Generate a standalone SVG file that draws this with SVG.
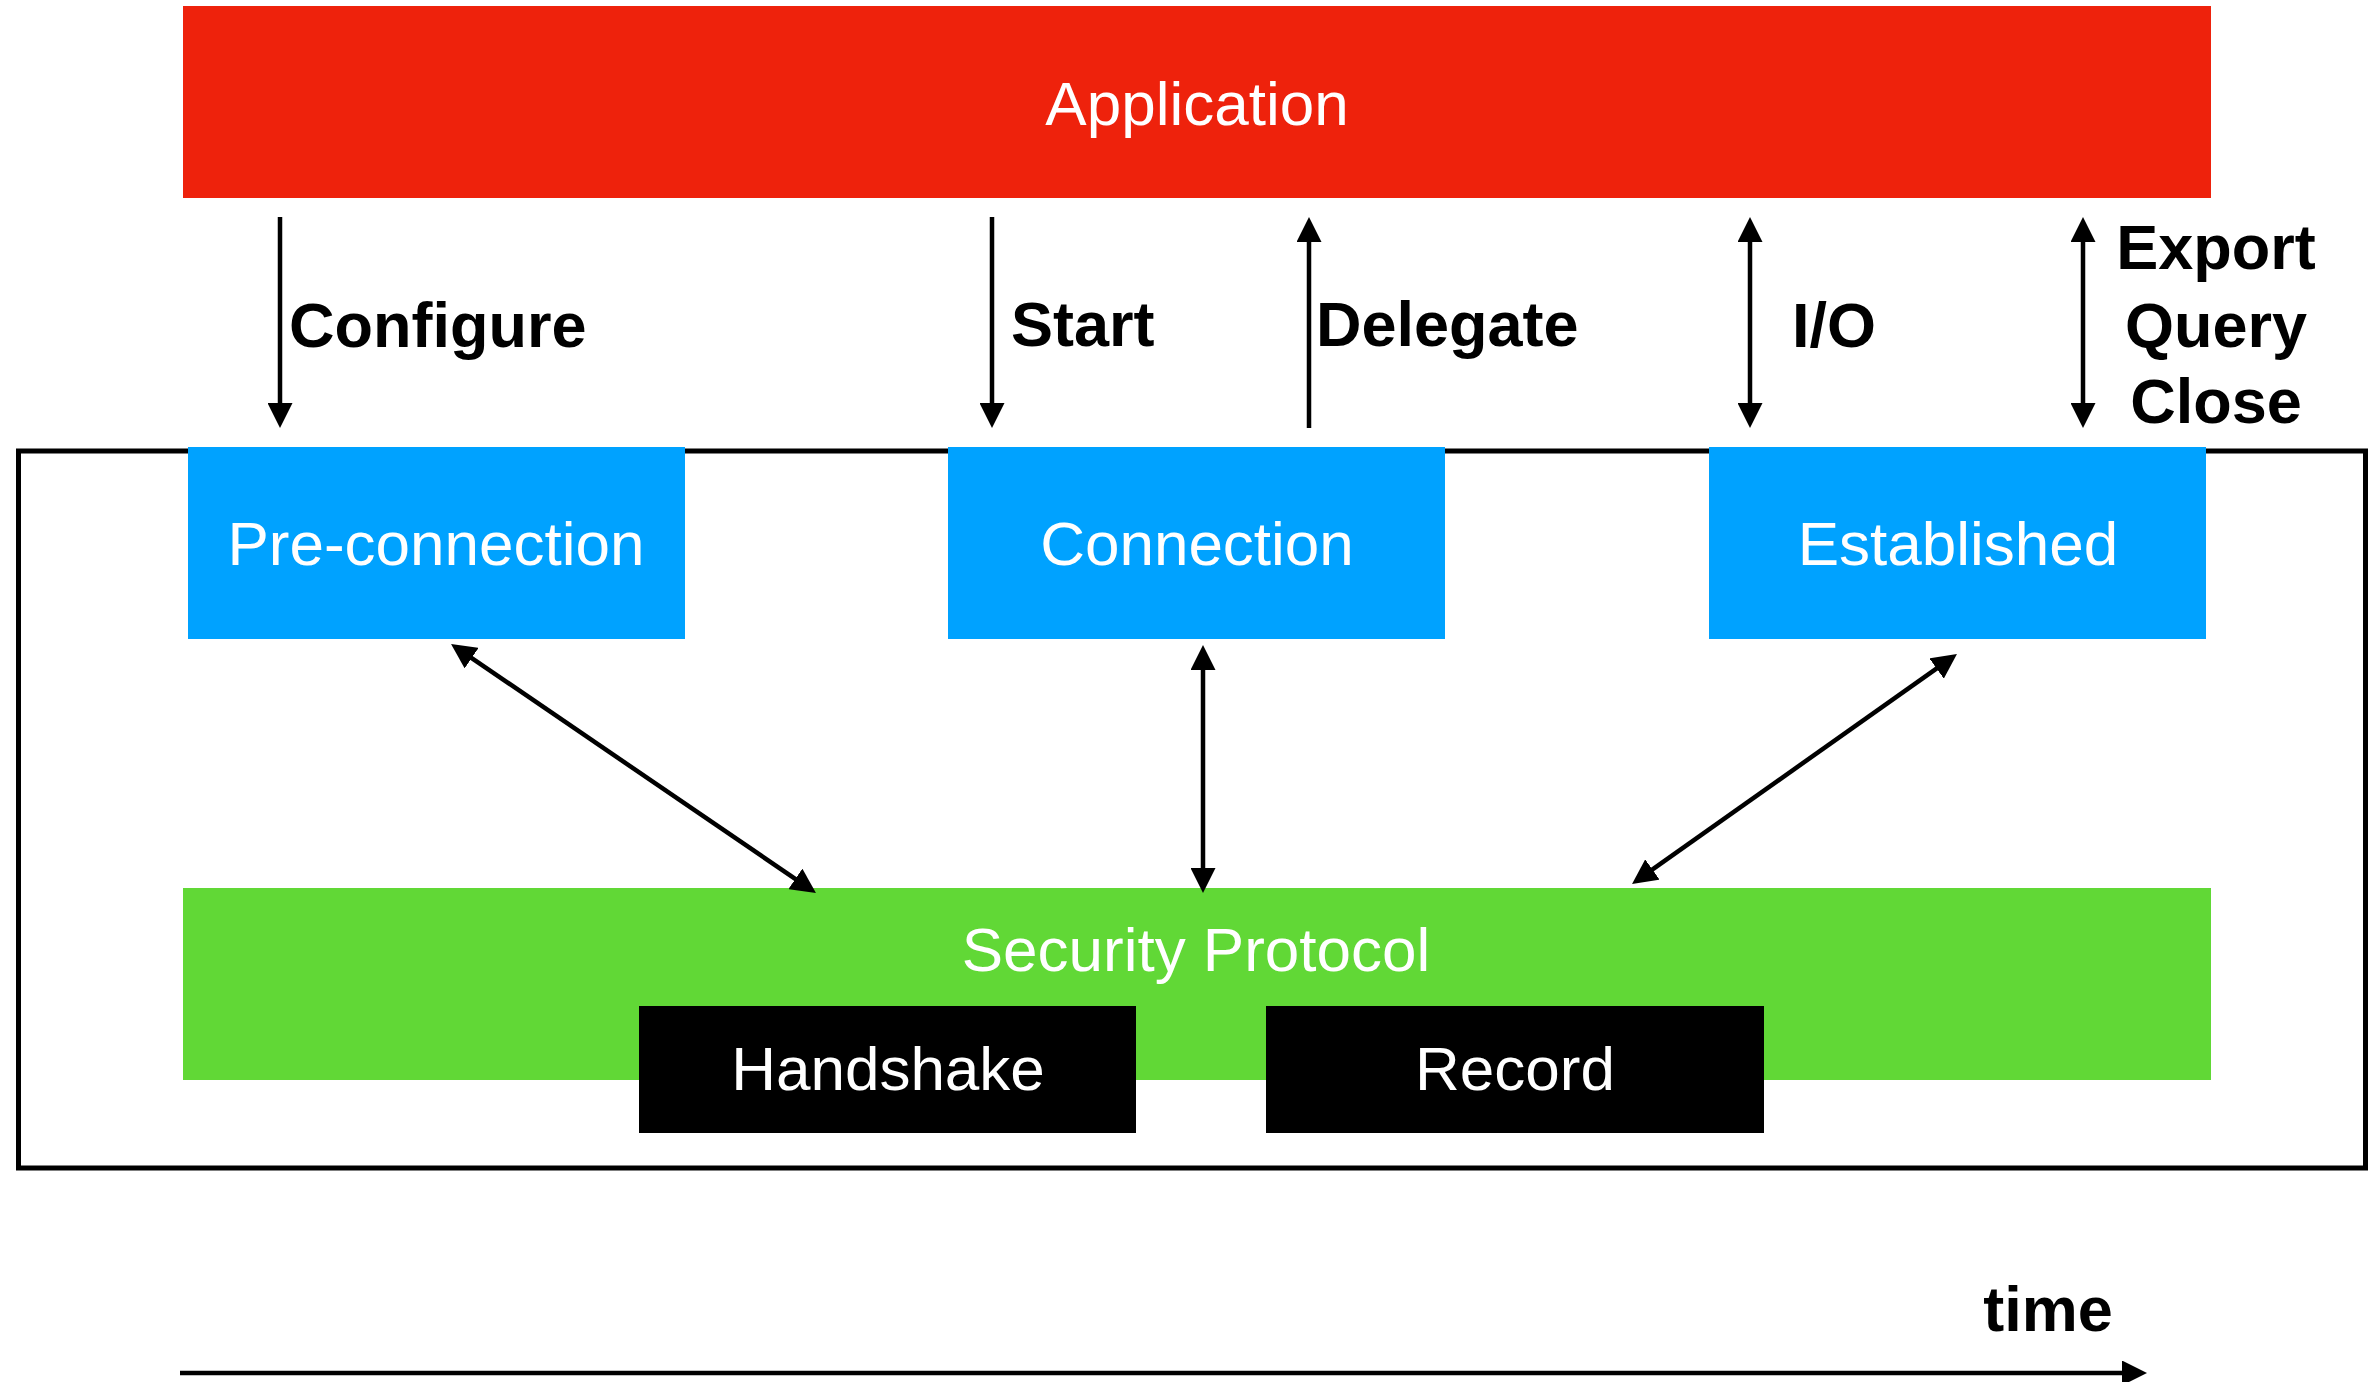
<svg xmlns="http://www.w3.org/2000/svg" width="2372" height="1382" viewBox="0 0 2372 1382">
  <style>
    .box-label { font-family: "Liberation Sans", Arial, sans-serif; font-size: 62px; fill: #ffffff; text-anchor: middle; }
    .op-label { font-family: "Liberation Sans", Arial, sans-serif; font-size: 63px; font-weight: bold; fill: #000000; }
    .conn { stroke: #000000; stroke-width: 4.5; fill: none; }
    .red { fill: #EE220C; }
    .blue { fill: #00A2FF; }
    .green { fill: #61D836; }
    .black { fill: #000000; }
  </style>
  <defs>
    <marker id="head" viewBox="0 0 25 25" refX="15" refY="12.5" markerWidth="25" markerHeight="25" markerUnits="userSpaceOnUse" orient="auto-start-reverse">
      <path d="M0,0 L25,12.5 L0,25 Z" fill="#000000"/>
    </marker>
  </defs>

  <rect width="2372" height="1382" fill="#ffffff"/>

  <!-- transport services frame -->
  <rect id="frame" x="18.5" y="451" width="2347" height="717" fill="none" stroke="#000000" stroke-width="5"/>

  <g id="application">
    <rect class="red" x="183" y="6" width="2028" height="192"/>
    <text class="box-label" x="1197" y="125">Application</text>
  </g>

  <g id="pre-connection">
    <rect class="blue" x="188" y="447" width="497" height="192"/>
    <text class="box-label" x="436" y="565">Pre-connection</text>
  </g>

  <g id="connection">
    <rect class="blue" x="948" y="447" width="497" height="192"/>
    <text class="box-label" x="1197" y="565">Connection</text>
  </g>

  <g id="established">
    <rect class="blue" x="1709" y="447" width="497" height="192"/>
    <text class="box-label" x="1958" y="565">Established</text>
  </g>

  <g id="security-protocol">
    <rect class="green" x="183" y="888" width="2028" height="192"/>
    <text class="box-label" x="1196" y="971">Security Protocol</text>
  </g>

  <g id="handshake">
    <rect class="black" x="639" y="1006" width="497" height="127"/>
    <text class="box-label" x="888" y="1090">Handshake</text>
  </g>

  <g id="record">
    <rect class="black" x="1266" y="1006" width="498" height="127"/>
    <text class="box-label" x="1515" y="1090">Record</text>
  </g>

  <g id="connectors">
    <!-- application interface calls -->
    <line class="conn" x1="280" y1="217" x2="280" y2="418" marker-end="url(#head)"/>
    <line class="conn" x1="992" y1="217" x2="992" y2="418" marker-end="url(#head)"/>
    <line class="conn" x1="1309" y1="428" x2="1309" y2="227" marker-end="url(#head)"/>
    <line class="conn" x1="1750" y1="227" x2="1750" y2="418" marker-start="url(#head)" marker-end="url(#head)"/>
    <line class="conn" x1="2083" y1="227" x2="2083" y2="418" marker-start="url(#head)" marker-end="url(#head)"/>

    <!-- links to the security protocol -->
    <line class="conn" x1="459.3" y1="649.6" x2="807.7" y2="887.4" marker-start="url(#head)" marker-end="url(#head)"/>
    <line class="conn" x1="1203" y1="655" x2="1203" y2="883" marker-start="url(#head)" marker-end="url(#head)"/>
    <line class="conn" x1="1948.8" y1="659.8" x2="1640.2" y2="878.2" marker-start="url(#head)" marker-end="url(#head)"/>

    <!-- time axis -->
    <line class="conn" x1="180" y1="1373" x2="2137" y2="1373" stroke-width="5" marker-end="url(#head)"/>
  </g>

  <g id="labels">
    <text class="op-label" x="289" y="347">Configure</text>
    <text class="op-label" x="1011" y="346">Start</text>
    <text class="op-label" x="1316" y="346">Delegate</text>
    <text class="op-label" x="1792" y="347">I/O</text>
    <text class="op-label" x="2216" y="269" text-anchor="middle">Export</text>
    <text class="op-label" x="2216" y="347" text-anchor="middle">Query</text>
    <text class="op-label" x="2216" y="423" text-anchor="middle">Close</text>
    <text class="op-label" x="2048" y="1331" text-anchor="middle">time</text>
  </g>
</svg>
